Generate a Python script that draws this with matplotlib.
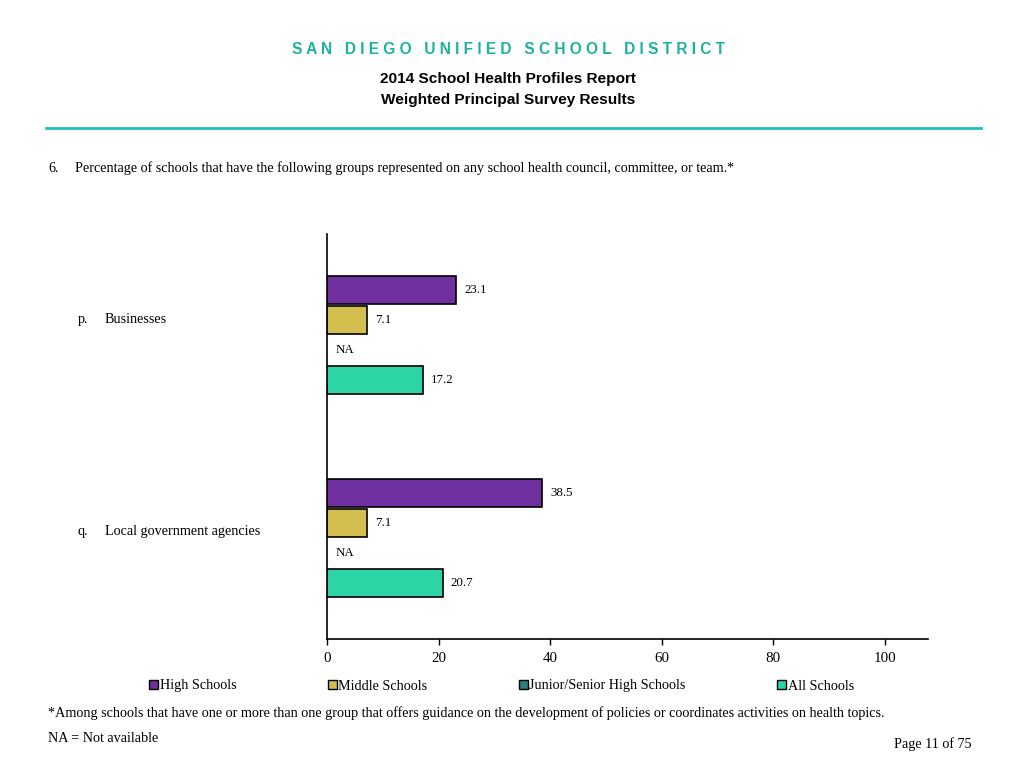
import matplotlib
matplotlib.use("Agg")
import matplotlib.pyplot as plt
from matplotlib.patches import Rectangle
import numpy as np

categories = ["p.    Businesses", "q.    Local government agencies"]
series_names = ["High Schools", "Middle Schools", "Junior/Senior High Schools", "All Schools"]
high_schools = [23.1, 38.5]
middle_schools = [7.1, 7.1]
junior_senior = [None, None]
all_schools = [17.2, 20.7]
series_values = [high_schools, middle_schools, junior_senior, all_schools]
colors = ["#7030A0", "#D4BE50", "#2E8080", "#2DD4A6"]
x_ticks = [0, 20, 40, 60, 80, 100]

W, H = 1024, 768
fig = plt.figure(figsize=(W / 100, H / 100), dpi=100)
serif = "Liberation Serif"
sans = "Liberation Sans"
fs = 10.2

def fx(px):
    return px / W

def fy(py):
    return 1 - py / H

# Header
fig.text(fx(509), fy(50), "S A N   D I E G O   U N I F I E D   S C H O O L   D I S T R I C T",
         ha="center", va="center", fontsize=11.2, fontweight="bold", color="#1BB39A", family=sans)
fig.text(fx(508), fy(79), "2014 School Health Profiles Report", ha="center", va="center",
         fontsize=11.1, fontweight="bold", family=sans)
fig.text(fx(508), fy(100), "Weighted Principal Survey Results", ha="center", va="center",
         fontsize=11.1, fontweight="bold", family=sans)
fig.add_artist(plt.Line2D([fx(46), fx(981)], [fy(128), fy(128)], color="#22C1B9", lw=2))

fig.text(fx(48), fy(172), "6.", ha="left", va="baseline", fontsize=fs, family=serif)
fig.text(fx(75), fy(172),
         "Percentage of schools that have the following groups represented on any school health council, committee, or team.*",
         ha="left", va="baseline", fontsize=fs, family=serif)

# Axes
ax = fig.add_axes([fx(327), fy(639), fx(928) - fx(327), (639 - 234) / H])
step = 30 / 203
bh = 28 / 203
offsets = (np.arange(4) - 1.5) * step
y = np.arange(len(categories))
handles = []
for i, (name, vals, c) in enumerate(zip(series_names, series_values, colors)):
    handles.append(Rectangle((0, 0), 1, 1, facecolor=c, edgecolor="black", linewidth=1))
    for j, v in enumerate(vals):
        yy = y[j] + offsets[i]
        if v is None:
            ax.text(1.5, yy, "NA", ha="left", va="center", fontsize=9.3, family=serif)
        else:
            ax.barh(yy, v, height=bh, color=c, edgecolor="black", linewidth=1.2)
            ax.text(v + 1.5, yy, f"{v:.1f}", ha="left", va="center", fontsize=9.3, family=serif)

ax.set_xlim(0, 601 / 5.58)
ax.set_ylim(1.5, -0.5)
ax.set_xticks(x_ticks)
ax.set_xticklabels([str(t) for t in x_ticks], family=serif, fontsize=10.8)
ax.tick_params(axis="x", length=4, width=1, pad=5)
ax.set_yticks([])
for s in ["top", "right"]:
    ax.spines[s].set_visible(False)
ax.spines["left"].set_linewidth(1.2)
ax.spines["bottom"].set_linewidth(1.2)

# Category labels
label_y = [323, 535]
for lab, ly in zip(categories, label_y):
    p, rest = lab.split("    ")
    fig.text(fx(78), fy(ly), p, ha="left", va="baseline", fontsize=fs, family=serif)
    fig.text(fx(105), fy(ly), rest, ha="left", va="baseline", fontsize=fs, family=serif)

# Legend
fig.legend(handles, series_names, loc="center left", bbox_to_anchor=(fx(149), fy(686)),
           ncol=4, frameon=False, prop={"family": serif, "size": fs},
           handlelength=0.65, handleheight=0.65, handletextpad=0.1,
           columnspacing=6.45, borderpad=0, borderaxespad=0)

fig.text(fx(48), fy(717),
         "*Among schools that have one or more than one group that offers guidance on the development of policies or coordinates activities on health topics.",
         ha="left", va="baseline", fontsize=fs, family=serif)
fig.text(fx(48), fy(742), "NA = Not available", ha="left", va="baseline", fontsize=fs, family=serif)
fig.text(fx(972), fy(748), "Page 11 of 75", ha="right", va="baseline", fontsize=fs, family=serif)

fig.savefig("out.png", dpi=100)
